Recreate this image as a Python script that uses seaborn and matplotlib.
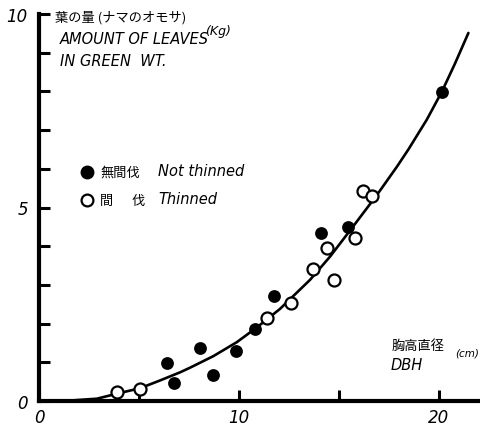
import matplotlib
matplotlib.use("Agg")
import matplotlib.pyplot as plt
import seaborn as sns
import pandas as pd

# Diameter at breast height (cm) and green leaf weight (kg) per tree
dbh_not_thinned = [6.39, 6.77, 8.07, 8.69, 9.84, 10.79, 11.75, 14.1, 15.47, 20.14]
leaf_not_thinned = [0.98, 0.46, 1.37, 0.67, 1.28, 1.85, 2.72, 4.33, 4.49, 7.99]
dbh_thinned = [3.92, 5.05, 11.39, 12.6, 13.7, 14.4, 14.75, 15.8, 16.22, 16.64]
leaf_thinned = [0.22, 0.31, 2.14, 2.52, 3.40, 3.95, 3.13, 4.21, 5.43, 5.30]

# Hand-drawn fitted curve
curve_dbh = [0.0, 1.5, 2.9, 3.9, 5.05, 6.0, 7.05, 7.55, 8.72, 9.89, 10.89, 12.05,
             13.55, 14.55, 15.72, 16.89, 17.89, 18.47, 19.39, 20.14, 20.8, 21.47]
curve_leaf = [0.0, 0.01, 0.06, 0.19, 0.33, 0.52, 0.74, 0.86, 1.16, 1.52, 1.9, 2.38,
              3.13, 3.73, 4.52, 5.32, 6.05, 6.5, 7.27, 7.99, 8.72, 9.51]

x_ticks = [0, 5, 10, 15, 20]
x_tick_labels = ["0", "", "10", "", "20"]
y_ticks = list(range(11))
y_tick_labels = ["0", "", "", "", "", "5", "", "", "", "", "10"]

sns.set_style("white")
plt.rcParams["font.family"] = ["DejaVu Sans", "Noto Sans CJK JP"]
plt.rcParams["text.color"] = "black"
plt.rcParams["xtick.color"] = "black"
plt.rcParams["ytick.color"] = "black"

W, H = 481, 427
fig = plt.figure(figsize=(W / 100, H / 100), dpi=100)
ax = fig.add_axes([39 / W, 25 / H, 440 / W, 387 / H])

curve = pd.DataFrame({"dbh": curve_dbh, "leaf": curve_leaf})
sns.lineplot(data=curve, x="dbh", y="leaf", sort=False, color="black",
             linewidth=1.9, ax=ax, zorder=2)

nt = pd.DataFrame({"dbh": dbh_not_thinned, "leaf": leaf_not_thinned})
th = pd.DataFrame({"dbh": dbh_thinned, "leaf": leaf_thinned})
sns.scatterplot(data=nt, x="dbh", y="leaf", color="black", s=85,
                edgecolor="black", linewidth=0, ax=ax, zorder=3)
sns.scatterplot(data=th, x="dbh", y="leaf", facecolor="white", s=75,
                edgecolor="black", linewidth=1.6, ax=ax, zorder=4)

ax.set_xlim(0, 22)
ax.set_ylim(0, 10)
ax.set_xlabel("")
ax.set_ylabel("")
for side in ("top", "right"):
    ax.spines[side].set_visible(False)
for side in ("left", "bottom"):
    ax.spines[side].set_linewidth(3)
    ax.spines[side].set_color("black")

ax.set_xticks(x_ticks)
ax.set_xticklabels(x_tick_labels)
ax.set_yticks(y_ticks)
ax.set_yticklabels(y_tick_labels)
ax.tick_params(axis="both", direction="in", length=8, width=2.2,
               color="black", labelcolor="black", labelsize=12,
               bottom=True, left=True)
ax.tick_params(axis="x", pad=5)
ax.tick_params(axis="y", pad=8)
for lab in ax.get_xticklabels() + ax.get_yticklabels():
    lab.set_fontstyle("italic")

def fx(px):
    return px / W

def fy(py):
    return 1 - py / H

jp = ["Noto Sans CJK JP", "DejaVu Sans"]
lat = dict(fontstyle="italic", fontsize=10.5, family="DejaVu Sans")

fig.text(fx(55), fy(18), "葉の量 (ナマのオモサ)", family=jp, fontsize=9.5,
         va="center", ha="left")
fig.text(fx(60), fy(40), "AMOUNT OF LEAVES", va="center", ha="left", **lat)
fig.text(fx(205), fy(31), "(Kg)", va="center", ha="left",
         fontstyle="italic", fontsize=9)
fig.text(fx(60), fy(62), "IN GREEN  WT.", va="center", ha="left", **lat)

# hand-placed key
ax.plot([fx(87)], [fy(173)], "o", transform=fig.transFigure, clip_on=False,
        markersize=9, color="black")
ax.plot([fx(87)], [fy(201)], "o", transform=fig.transFigure, clip_on=False,
        markersize=8.5, markerfacecolor="white", markeredgecolor="black",
        markeredgewidth=1.6)
fig.text(fx(100), fy(173), "無間伐", family=jp, fontsize=9.5, va="center", ha="left")
fig.text(fx(100), fy(201), "間", family=jp, fontsize=9.5, va="center", ha="left")
fig.text(fx(131), fy(201), "伐", family=jp, fontsize=9.5, va="center", ha="left")
fig.text(fx(158), fy(172), "Not thinned", va="center", ha="left", **lat)
fig.text(fx(158), fy(200), "Thinned", va="center", ha="left", **lat)

fig.text(fx(392), fy(346), "胸高直径", family=jp, fontsize=9.5, va="center", ha="left")
fig.text(fx(455), fy(353), "(cm)", va="center", ha="left", fontstyle="italic",
         fontsize=7.5)
fig.text(fx(391), fy(366), "DBH", va="center", ha="left", **lat)

fig.savefig("out.png", dpi=100)
